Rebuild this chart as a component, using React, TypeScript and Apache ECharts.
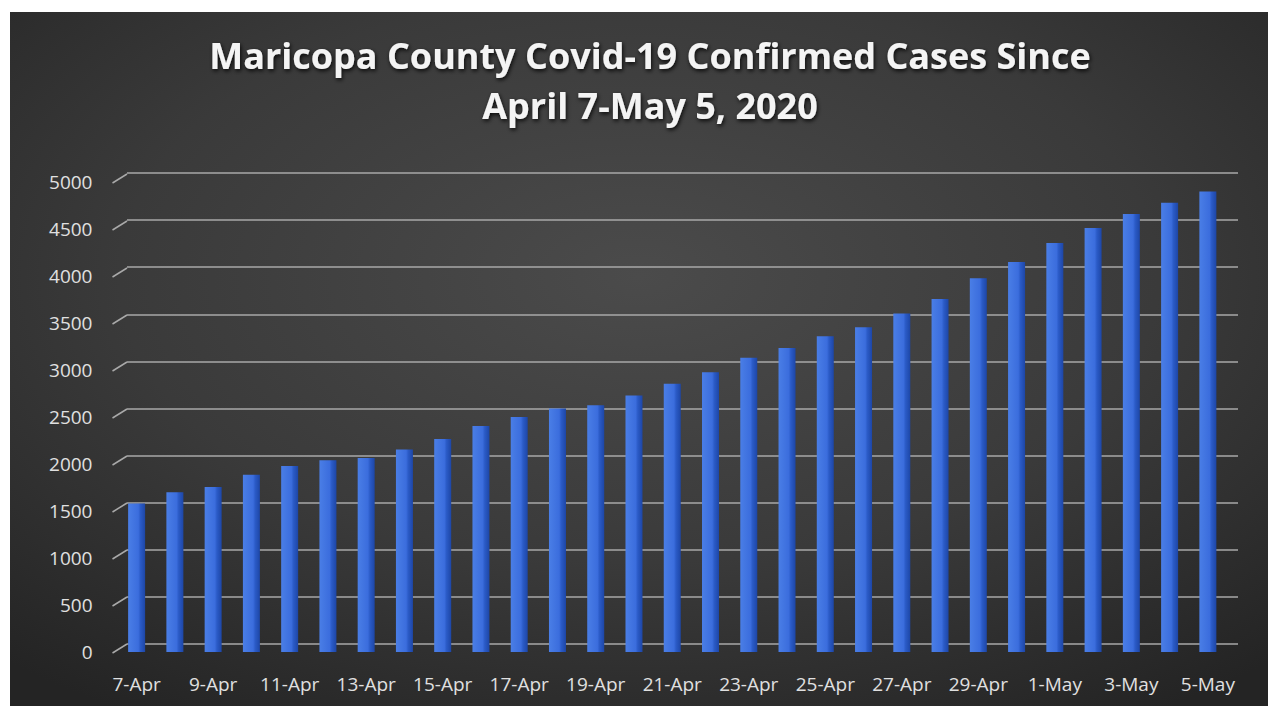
import React, { useEffect, useRef } from "react";
import * as echarts from "echarts";

const titleLines = ["Maricopa County Covid-19 Confirmed Cases Since", "April 7-May 5, 2020"];

const dates = [
  "7-Apr", "8-Apr", "9-Apr", "10-Apr", "11-Apr", "12-Apr", "13-Apr", "14-Apr", "15-Apr", "16-Apr",
  "17-Apr", "18-Apr", "19-Apr", "20-Apr", "21-Apr", "22-Apr", "23-Apr", "24-Apr", "25-Apr", "26-Apr",
  "27-Apr", "28-Apr", "29-Apr", "30-Apr", "1-May", "2-May", "3-May", "4-May", "5-May",
];

const cases = [
  1580, 1700, 1755, 1885, 1980, 2040, 2065, 2155, 2265, 2405,
  2500, 2590, 2625, 2730, 2855, 2975, 3130, 3235, 3360, 3455,
  3600, 3755, 3975, 4150, 4350, 4510, 4660, 4780, 4900,
];

const yTicks = [0, 500, 1000, 1500, 2000, 2500, 3000, 3500, 4000, 4500, 5000];

const FONT = "'Open Sans', sans-serif";

const titleStyle = {
  fontFamily: FONT,
  fontSize: 36,
  fontWeight: "bold",
  color: "#f4f4f4",
  lineHeight: 42,
  textShadowColor: "rgba(0,0,0,0.85)",
  textShadowBlur: 4,
  textShadowOffsetX: 1,
  textShadowOffsetY: 2,
};

export default function App() {
  const ref = useRef<HTMLDivElement>(null);

  useEffect(() => {
    document.body.style.margin = "0";
    const chart = echarts.init(ref.current!, null, { renderer: "svg" });
    const option: any = {
      animation: false,
      backgroundColor: "#ffffff",
      graphic: [
        {
          type: "rect",
          left: 10,
          top: 12,
          z: -10,
          shape: { width: 1258, height: 694 },
          style: {
            fill: {
              type: "radial",
              x: 0.5,
              y: 0.38,
              r: 0.75,
              colorStops: [
                { offset: 0, color: "#4b4b4b" },
                { offset: 0.55, color: "#3a3a3a" },
                { offset: 1, color: "#242424" },
              ],
            },
          },
        },
      ],
      title: [
        { text: titleLines[0], left: 645, top: 29, textAlign: "center", textStyle: titleStyle },
        { text: titleLines[1], left: 645, top: 79, textAlign: "center", textStyle: titleStyle },
      ],
      grid: [
        { left: 117.5, right: 41, top: 182, bottom: 64 },
        { left: 127, right: 30, top: 173, bottom: 72 },
      ],
      xAxis: [
        {
          type: "category",
          gridIndex: 0,
          data: dates,
          axisLine: { show: false },
          axisTick: { show: false },
          axisLabel: {
            interval: 1,
            color: "#e0e0e0",
            fontFamily: FONT,
            fontSize: 19,
            margin: 22,
          },
        },
        {
          type: "category",
          gridIndex: 1,
          data: dates,
          show: false,
        },
      ],
      yAxis: [
        {
          type: "value",
          gridIndex: 0,
          min: 0,
          max: 5000,
          interval: 500,
          splitLine: { show: false },
          axisLine: { show: false },
          axisTick: { show: false },
          axisLabel: {
            color: "#e0e0e0",
            fontFamily: FONT,
            fontSize: 19,
            margin: 25,
            formatter: (v: number) => String(v),
          },
        },
        {
          type: "value",
          gridIndex: 1,
          min: 0,
          max: 5000,
          interval: 500,
          axisLine: { show: false },
          axisTick: { show: false },
          axisLabel: { show: false },
          splitLine: { show: true, lineStyle: { color: "#a9a9a9", width: 1.5 } },
        },
      ],
      series: [
        {
          type: "custom",
          xAxisIndex: 0,
          yAxisIndex: 0,
          data: yTicks.map((v) => [0, v]),
          encode: { x: 0, y: 1 },
          clip: false,
          renderItem: (params: any, api: any) => {
            const pt = api.coord([0, api.value(1)]);
            const left = params.coordSys.x;
            return {
              type: "line",
              shape: { x1: left - 5, y1: pt[1] + 1, x2: left + 9.5, y2: pt[1] - 8 },
              style: { stroke: "#a9a9a9", lineWidth: 1.5 },
            };
          },
          z: 5,
        },
        {
          type: "bar",
          xAxisIndex: 0,
          yAxisIndex: 0,
          data: cases,
          barWidth: 17,
          z: 3,
          itemStyle: {
            color: {
              type: "linear",
              x: 0,
              y: 0,
              x2: 1,
              y2: 0,
              colorStops: [
                { offset: 0, color: "#4a7ee6" },
                { offset: 0.6, color: "#3b6ddd" },
                { offset: 0.72, color: "#2b5bc7" },
                { offset: 1, color: "#1d46a6" },
              ],
            },
          },
        },
      ],
    };
    chart.setOption(option);
    return () => chart.dispose();
  }, []);

  return <div ref={ref} style={{ width: 1268, height: 716 }} />;
}
